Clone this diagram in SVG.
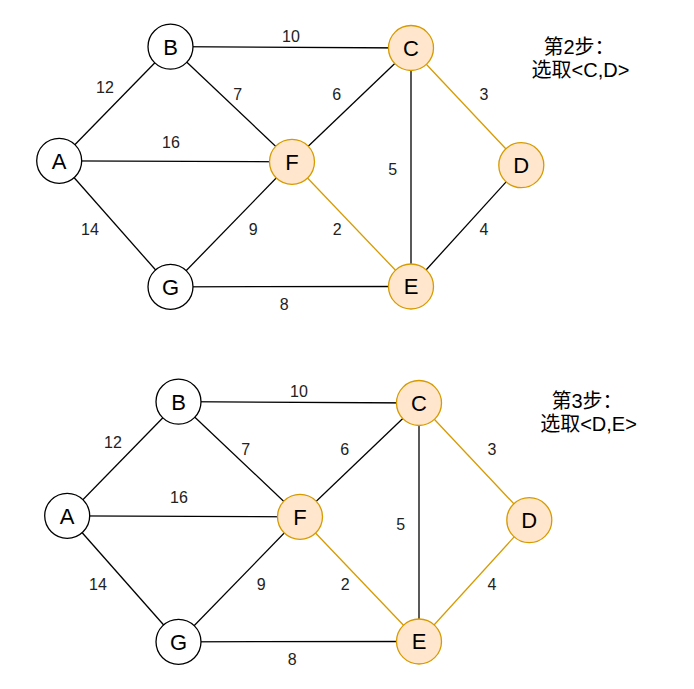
<svg xmlns="http://www.w3.org/2000/svg" width="694" height="689" viewBox="0 0 694 689">
<style>
text{font-family:"Liberation Sans",Arial,"Noto Sans CJK SC",sans-serif;fill:#000}
.e{stroke:#000;stroke-width:1.3;fill:none}
.o{stroke:#d79b00;stroke-width:1.3;fill:none}
.n circle{fill:#fff;stroke:#000;stroke-width:1.3}
.h circle{fill:#ffe6cc;stroke:#d79b00;stroke-width:1.3}
.n text{font-size:22px;text-anchor:middle}
.lbl{font-size:16px;text-anchor:middle;fill:#222}
.note{font-size:20px;text-anchor:middle}
</style>
<rect width="694" height="689" fill="#fff"/>
<g id="step2">
<g id="edges2">
<line class="e" x1="59.2" y1="160.8" x2="170.5" y2="46.7"/>
<line class="e" x1="59.2" y1="160.8" x2="292" y2="161.8"/>
<line class="e" x1="59.2" y1="160.8" x2="170.5" y2="286.8"/>
<line class="e" x1="170.5" y1="46.7" x2="411" y2="48"/>
<line class="e" x1="170.5" y1="46.7" x2="292" y2="161.8"/>
<line class="e" x1="292" y1="161.8" x2="411" y2="48"/>
<line class="e" x1="292" y1="161.8" x2="170.5" y2="286.8"/>
<line class="o" x1="292" y1="161.8" x2="411" y2="286.5"/>
<line class="e" x1="170.5" y1="286.8" x2="411" y2="286.5"/>
<line class="e" x1="411" y1="48" x2="411" y2="286.5"/>
<line class="o" x1="411" y1="48" x2="521.3" y2="165.2"/>
<line class="e" x1="521.3" y1="165.2" x2="411" y2="286.5"/>
<text class="lbl" x="291" y="41.8">10</text>
<text class="lbl" x="105" y="93.3">12</text>
<text class="lbl" x="237.7" y="99.8">7</text>
<text class="lbl" x="336.7" y="100.3">6</text>
<text class="lbl" x="171" y="148.3">16</text>
<text class="lbl" x="90" y="235.3">14</text>
<text class="lbl" x="253.3" y="235.3">9</text>
<text class="lbl" x="337.3" y="235.3">2</text>
<text class="lbl" x="284.3" y="309.8">8</text>
<text class="lbl" x="392.7" y="174.8">5</text>
<text class="lbl" x="484" y="100.3">3</text>
<text class="lbl" x="484" y="235.3">4</text>
</g>
<g id="A2" class="n"><circle cx="59.2" cy="160.8" r="22.5"/><text x="59.2" y="168.7">A</text></g>
<g id="B2" class="n"><circle cx="170.5" cy="46.7" r="22.5"/><text x="170.5" y="54.6">B</text></g>
<g id="G2" class="n"><circle cx="170.5" cy="286.8" r="22.5"/><text x="170.5" y="294.7">G</text></g>
<g id="F2" class="n h"><circle cx="292" cy="161.8" r="22.5"/><text x="292" y="169.7">F</text></g>
<g id="C2" class="n h"><circle cx="411" cy="48" r="22.5"/><text x="411" y="55.9">C</text></g>
<g id="E2" class="n h"><circle cx="411" cy="286.5" r="22.5"/><text x="411" y="294.4">E</text></g>
<g id="D2" class="n h"><circle cx="521.3" cy="165.2" r="22.5"/><text x="521.3" y="173.1">D</text></g>
<g id="note2"><text class="note" x="579" y="54">第2步：</text><text class="note" x="580.5" y="77">选取&lt;C,D&gt;</text></g>
</g>
<g id="step3" transform="translate(8,355)">
<g id="edges3">
<line class="e" x1="59.2" y1="160.8" x2="170.5" y2="46.7"/>
<line class="e" x1="59.2" y1="160.8" x2="292" y2="161.8"/>
<line class="e" x1="59.2" y1="160.8" x2="170.5" y2="286.8"/>
<line class="e" x1="170.5" y1="46.7" x2="411" y2="48"/>
<line class="e" x1="170.5" y1="46.7" x2="292" y2="161.8"/>
<line class="e" x1="292" y1="161.8" x2="411" y2="48"/>
<line class="e" x1="292" y1="161.8" x2="170.5" y2="286.8"/>
<line class="o" x1="292" y1="161.8" x2="411" y2="286.5"/>
<line class="e" x1="170.5" y1="286.8" x2="411" y2="286.5"/>
<line class="e" x1="411" y1="48" x2="411" y2="286.5"/>
<line class="o" x1="411" y1="48" x2="521.3" y2="165.2"/>
<line class="o" x1="521.3" y1="165.2" x2="411" y2="286.5"/>
<text class="lbl" x="291" y="41.8">10</text>
<text class="lbl" x="105" y="93.3">12</text>
<text class="lbl" x="237.7" y="99.8">7</text>
<text class="lbl" x="336.7" y="100.3">6</text>
<text class="lbl" x="171" y="148.3">16</text>
<text class="lbl" x="90" y="235.3">14</text>
<text class="lbl" x="253.3" y="235.3">9</text>
<text class="lbl" x="337.3" y="235.3">2</text>
<text class="lbl" x="284.3" y="309.8">8</text>
<text class="lbl" x="392.7" y="174.8">5</text>
<text class="lbl" x="484" y="100.3">3</text>
<text class="lbl" x="484" y="235.3">4</text>
</g>
<g id="A3" class="n"><circle cx="59.2" cy="160.8" r="22.5"/><text x="59.2" y="168.7">A</text></g>
<g id="B3" class="n"><circle cx="170.5" cy="46.7" r="22.5"/><text x="170.5" y="54.6">B</text></g>
<g id="G3" class="n"><circle cx="170.5" cy="286.8" r="22.5"/><text x="170.5" y="294.7">G</text></g>
<g id="F3" class="n h"><circle cx="292" cy="161.8" r="22.5"/><text x="292" y="169.7">F</text></g>
<g id="C3" class="n h"><circle cx="411" cy="48" r="22.5"/><text x="411" y="55.9">C</text></g>
<g id="E3" class="n h"><circle cx="411" cy="286.5" r="22.5"/><text x="411" y="294.4">E</text></g>
<g id="D3" class="n h"><circle cx="521.3" cy="165.2" r="22.5"/><text x="521.3" y="173.1">D</text></g>
<g id="note3"><text class="note" x="579" y="53">第3步：</text><text class="note" x="580.5" y="76">选取&lt;D,E&gt;</text></g>
</g>
</svg>
